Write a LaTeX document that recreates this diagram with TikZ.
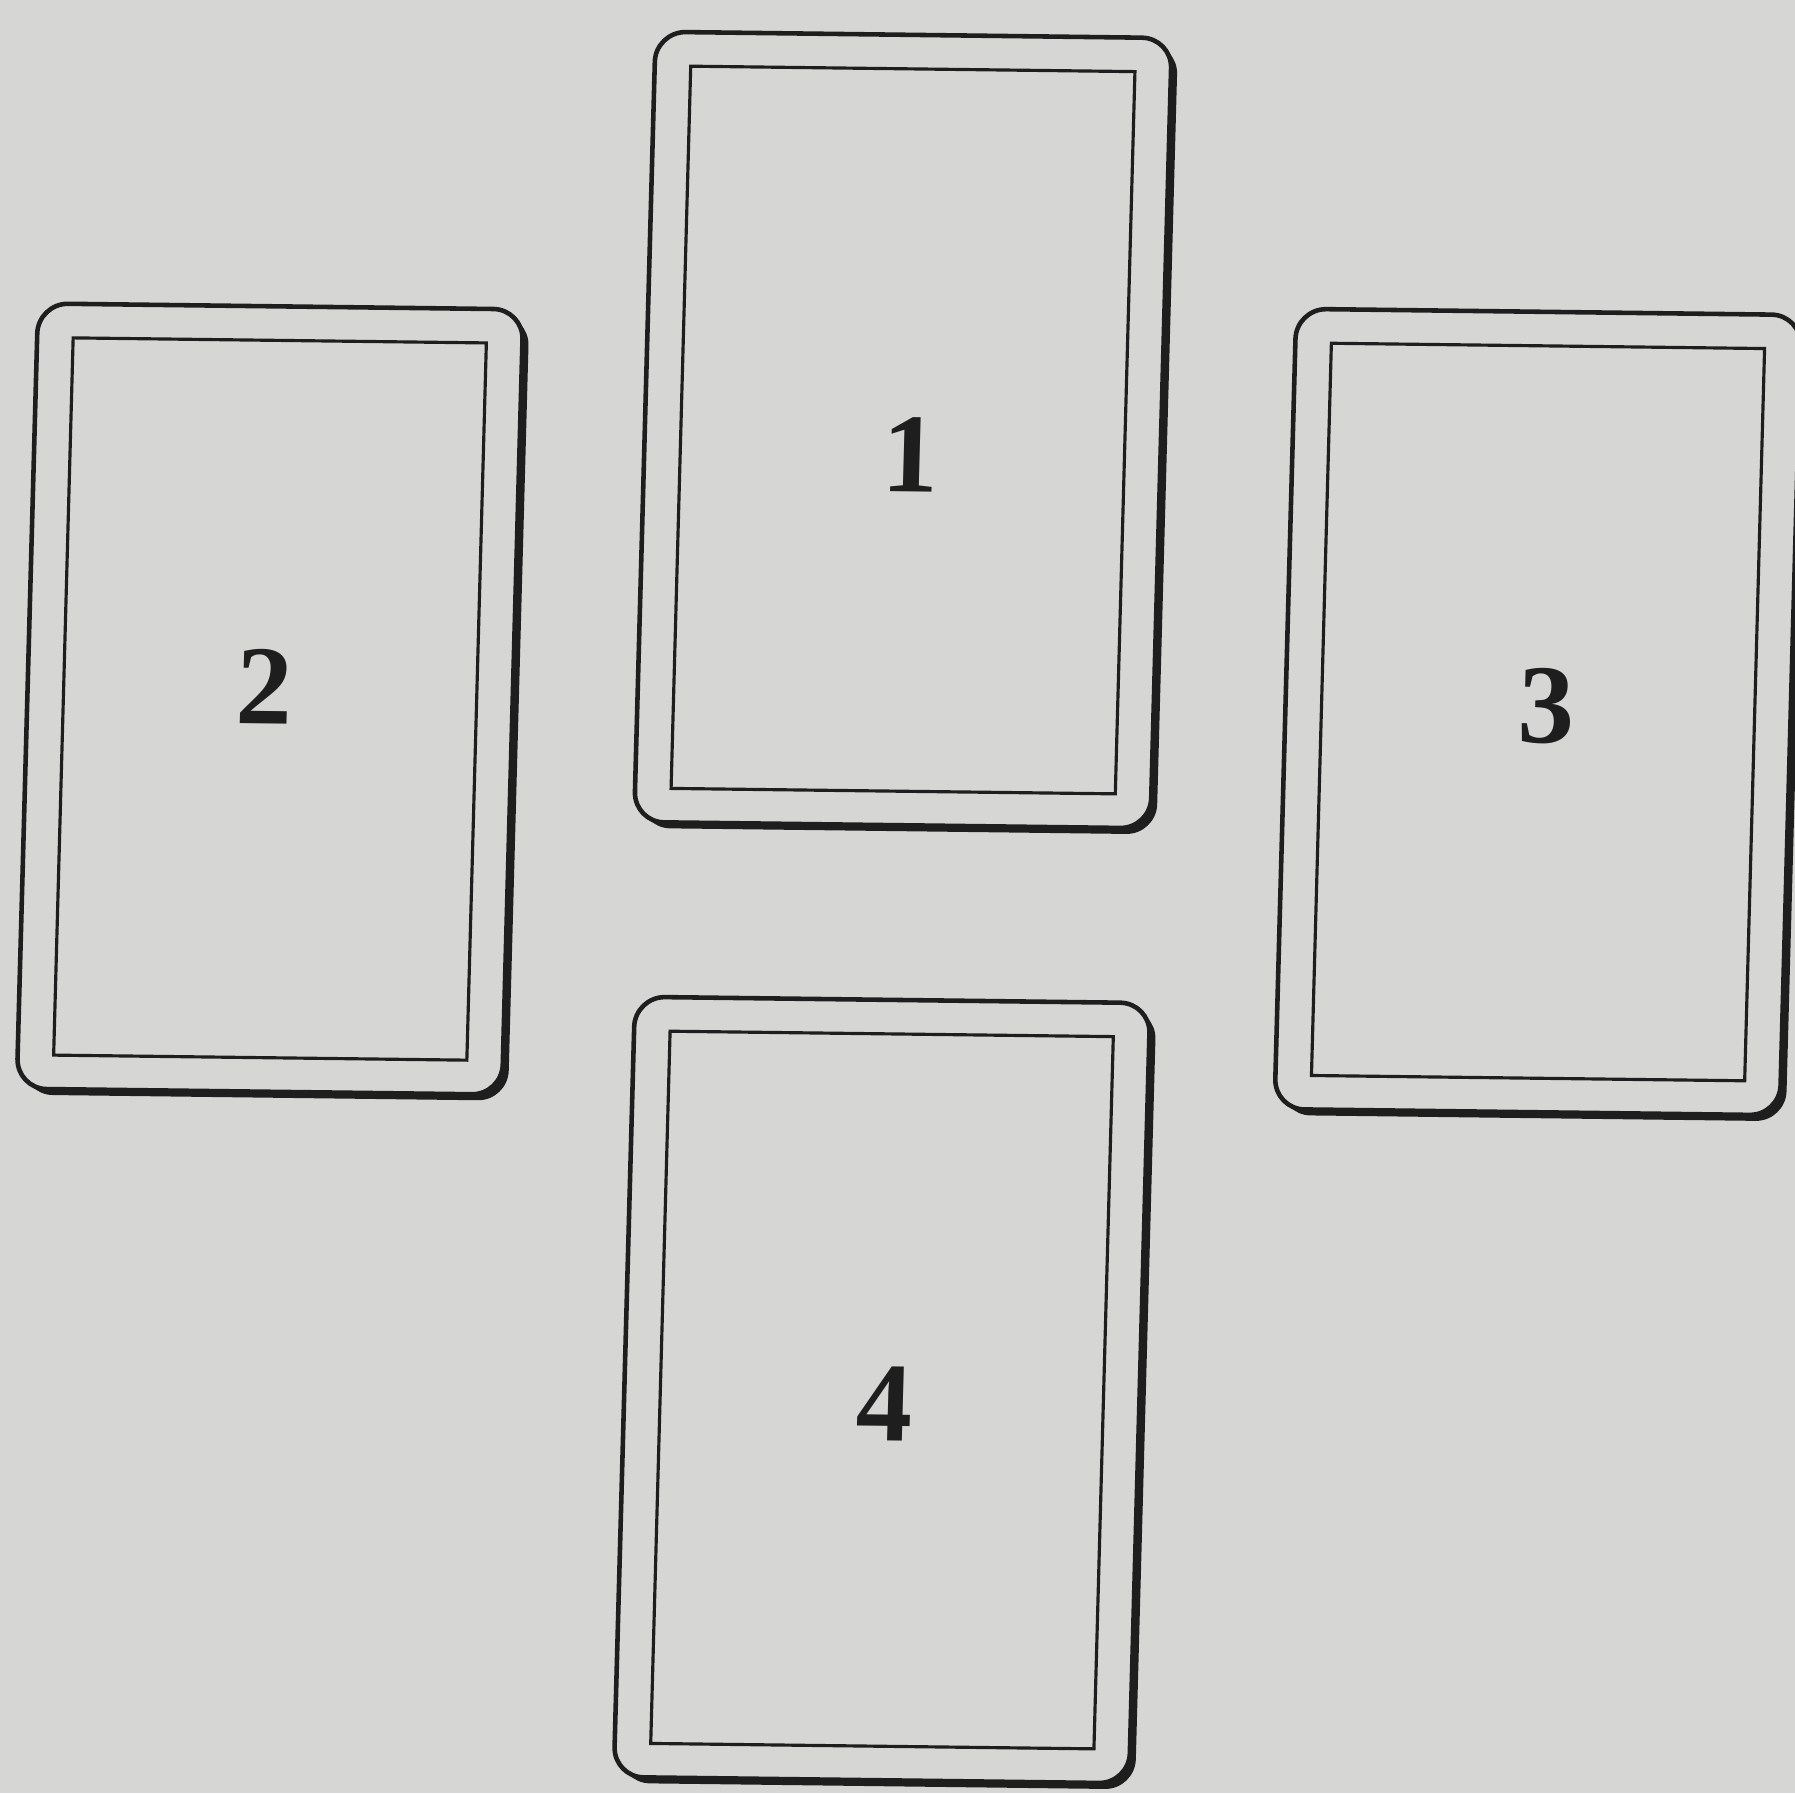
\documentclass[tikz,border=0pt]{standalone}
\usepackage{fontspec}
\setmainfont{Liberation Serif}
\usetikzlibrary{shadows}
\definecolor{paper}{RGB}{214,214,212}
\definecolor{ink}{RGB}{30,30,30}

\begin{document}
\begin{tikzpicture}[x=0.01cm, y=-0.01cm,
  tilt/.style={rotate=-0.7, xslant=0.015},
  card/.style={tilt, draw=ink, line width=1.3pt, fill=paper, rounded corners=0.3cm,
    drop shadow={shadow xshift=0.06cm, shadow yshift=-0.06cm, opacity=1, fill=ink}},
  face/.style={tilt, draw=ink, line width=0.9pt},
  num/.style={tilt, font=\fontsize{32}{36}\selectfont\bfseries, text=ink}]
  \fill[paper] (0,0) rectangle (1795,1793);
  \useasboundingbox (0,0) rectangle (1795,1793);
  % card 1 (top)
  \node[card, minimum width=5.16cm, minimum height=7.9cm] (c1) at (903,430) {};
  \node[face, minimum width=4.44cm, minimum height=7.22cm] (c1face) at (c1) {};
  \node[num] (n1) at (911,455) {1};
  % card 2 (left)
  \node[card, minimum width=4.85cm, minimum height=7.85cm] (c2) at (270,699) {};
  \node[face, minimum width=4.13cm, minimum height=7.17cm] (c2face) at (c2) {};
  \node[num] (n2) at (265,687) {2};
  % card 3 (right)
  \node[card, minimum width=5.05cm, minimum height=8.0cm] (c3) at (1538,712) {};
  \node[face, minimum width=4.33cm, minimum height=7.32cm] (c3face) at (c3) {};
  \node[num] (n3) at (1547,706) {3};
  % card 4 (bottom)
  \node[card, minimum width=5.15cm, minimum height=7.8cm] (c4) at (882,1390) {};
  \node[face, minimum width=4.43cm, minimum height=7.12cm] (c4face) at (c4) {};
  \node[num] (n4) at (885,1404) {4};
\end{tikzpicture}
\end{document}
